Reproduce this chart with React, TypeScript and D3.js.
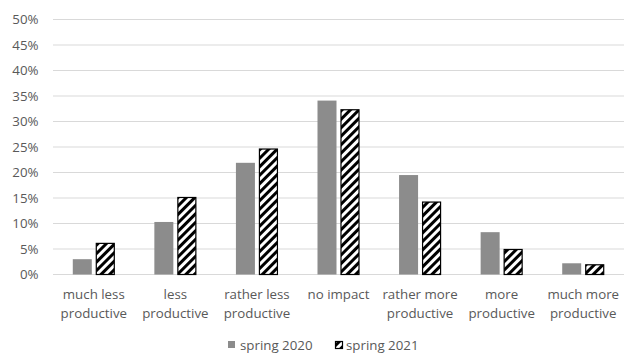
import React from "react";
import * as d3 from "d3";

const categories = [
  ["much less", "productive"],
  ["less", "productive"],
  ["rather less", "productive"],
  ["no impact"],
  ["rather more", "productive"],
  ["more", "productive"],
  ["much more", "productive"],
];
const seriesNames = ["spring 2020", "spring 2021"];
const spring2020 = [3.0, 10.3, 21.9, 34.1, 19.5, 8.3, 2.2];
const spring2021 = [6.2, 15.2, 24.7, 32.4, 14.3, 5.0, 2.0];
const yTicks = [0, 5, 10, 15, 20, 25, 30, 35, 40, 45, 50];

const W = 624;
const H = 354;
const font = "'Open Sans', sans-serif";
const textColor = "#595959";

export default function App() {
  const keys = categories.map((c) => c.join(" "));
  const x = d3.scaleBand().domain(keys).range([53, 624]).paddingInner(0.485).paddingOuter(0.2425);
  const xs = d3.scaleBand().domain(seriesNames).range([0, x.bandwidth()]).paddingInner(0.174);
  const y = d3.scaleLinear().domain([0, 50]).range([274.5, 19.5]);
  const series = [spring2020, spring2021];

  return (
    <svg width={W} height={H} style={{ position: "absolute", left: 0, top: 0 }}>
      <defs>
        <pattern id="hatch" patternUnits="userSpaceOnUse" width={6} height={6} patternTransform="rotate(45)">
          <rect width={6} height={6} fill="#fff" />
          <line x1={1.5} y1={0} x2={1.5} y2={6} stroke="#000" strokeWidth={3} />
        </pattern>
      </defs>
      <rect width={W} height={H} fill="#fff" />
      {yTicks.map((t) => (
        <g key={t}>
          <line x1={53} x2={624} y1={y(t)} y2={y(t)} stroke="#d9d9d9" strokeWidth={1} />
          <text x={38.5} y={y(t)} dy="0.36em" textAnchor="end" fontFamily={font} fontSize={13.3} fill={textColor}>
            {t}%
          </text>
        </g>
      ))}
      {series.map((vals, si) =>
        vals.map((v, i) => {
          const bx = (x(keys[i]) as number) + (xs(seriesNames[si]) as number);
          const bw = xs.bandwidth();
          return si === 0 ? (
            <rect key={`${si}-${i}`} x={bx} y={y(v)} width={bw} height={y(0) - y(v)} fill="#8c8c8c" />
          ) : (
            <rect key={`${si}-${i}`} x={bx + 0.5} y={y(v) + 0.5} width={bw - 1} height={y(0) - y(v) - 0.5}
              fill="url(#hatch)" stroke="#000" strokeWidth={1.2} />
          );
        })
      )}
      {categories.map((lines, i) => {
        const cx = (x(keys[i]) as number) + x.bandwidth() / 2;
        return (
          <text key={i} x={cx} textAnchor="middle" fontFamily={font} fontSize={13.3} fill={textColor}>
            {lines.map((l, j) => (
              <tspan key={j} x={cx} y={299 + j * 19}>{l}</tspan>
            ))}
          </text>
        );
      })}
      <g fontFamily={font} fontSize={13.3} fill={textColor}>
        <rect x={228} y={341} width={7} height={7} fill="#8c8c8c" />
        <text x={240} y={350}>{seriesNames[0]}</text>
        <rect x={335.5} y={341.5} width={7} height={7} fill="url(#hatch)" stroke="#000" strokeWidth={1.2} />
        <text x={346} y={350}>{seriesNames[1]}</text>
      </g>
    </svg>
  );
}
